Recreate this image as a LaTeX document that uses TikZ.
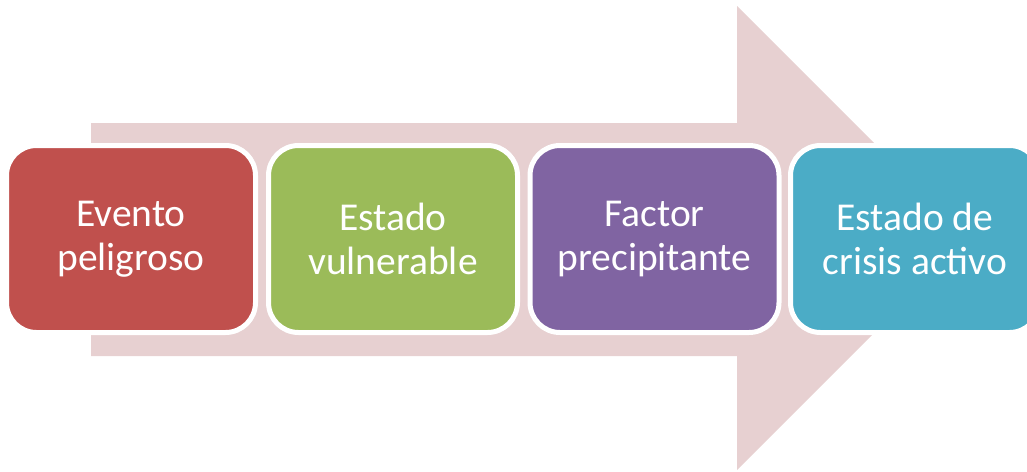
\documentclass[tikz,border=0pt]{standalone}
\usepackage{fontspec}
\setmainfont{Carlito}
\definecolor{arrowpink}{HTML}{E7D0D1}
\definecolor{cred}{HTML}{C0504D}
\definecolor{cgreen}{HTML}{9BBB59}
\definecolor{cpurple}{HTML}{8064A2}
\definecolor{cteal}{HTML}{4BACC6}
\tikzset{
  stagebox/.style={draw=white, line width=5pt, rounded corners=30pt,
    minimum width=249pt, minimum height=187pt, inner sep=0pt,
    text=white, align=center,
    font=\fontsize{39.5}{44}\selectfont}
}
\begin{document}
\begin{tikzpicture}[x=1pt,y=-1pt]
\useasboundingbox (0,0) rectangle (1027,471);
\clip (0,0) rectangle (1027,471);
\fill[arrowpink] (91,123) -- (737,123) -- (737,6) -- (969,238) -- (737,470) -- (737,356) -- (91,356) -- cycle;
\node[stagebox, fill=cred] (b1) at (131,239) {Evento\\peligroso};
\node[stagebox, fill=cgreen] (b2) at (393,239) {Estado\\vulnerable};
\node[stagebox, fill=cpurple] (b3) at (654.5,239) {Factor\\precipitante};
\node[stagebox, fill=cteal] (b4) at (915,239) {Estado de\\crisis activo};
\end{tikzpicture}
\end{document}
